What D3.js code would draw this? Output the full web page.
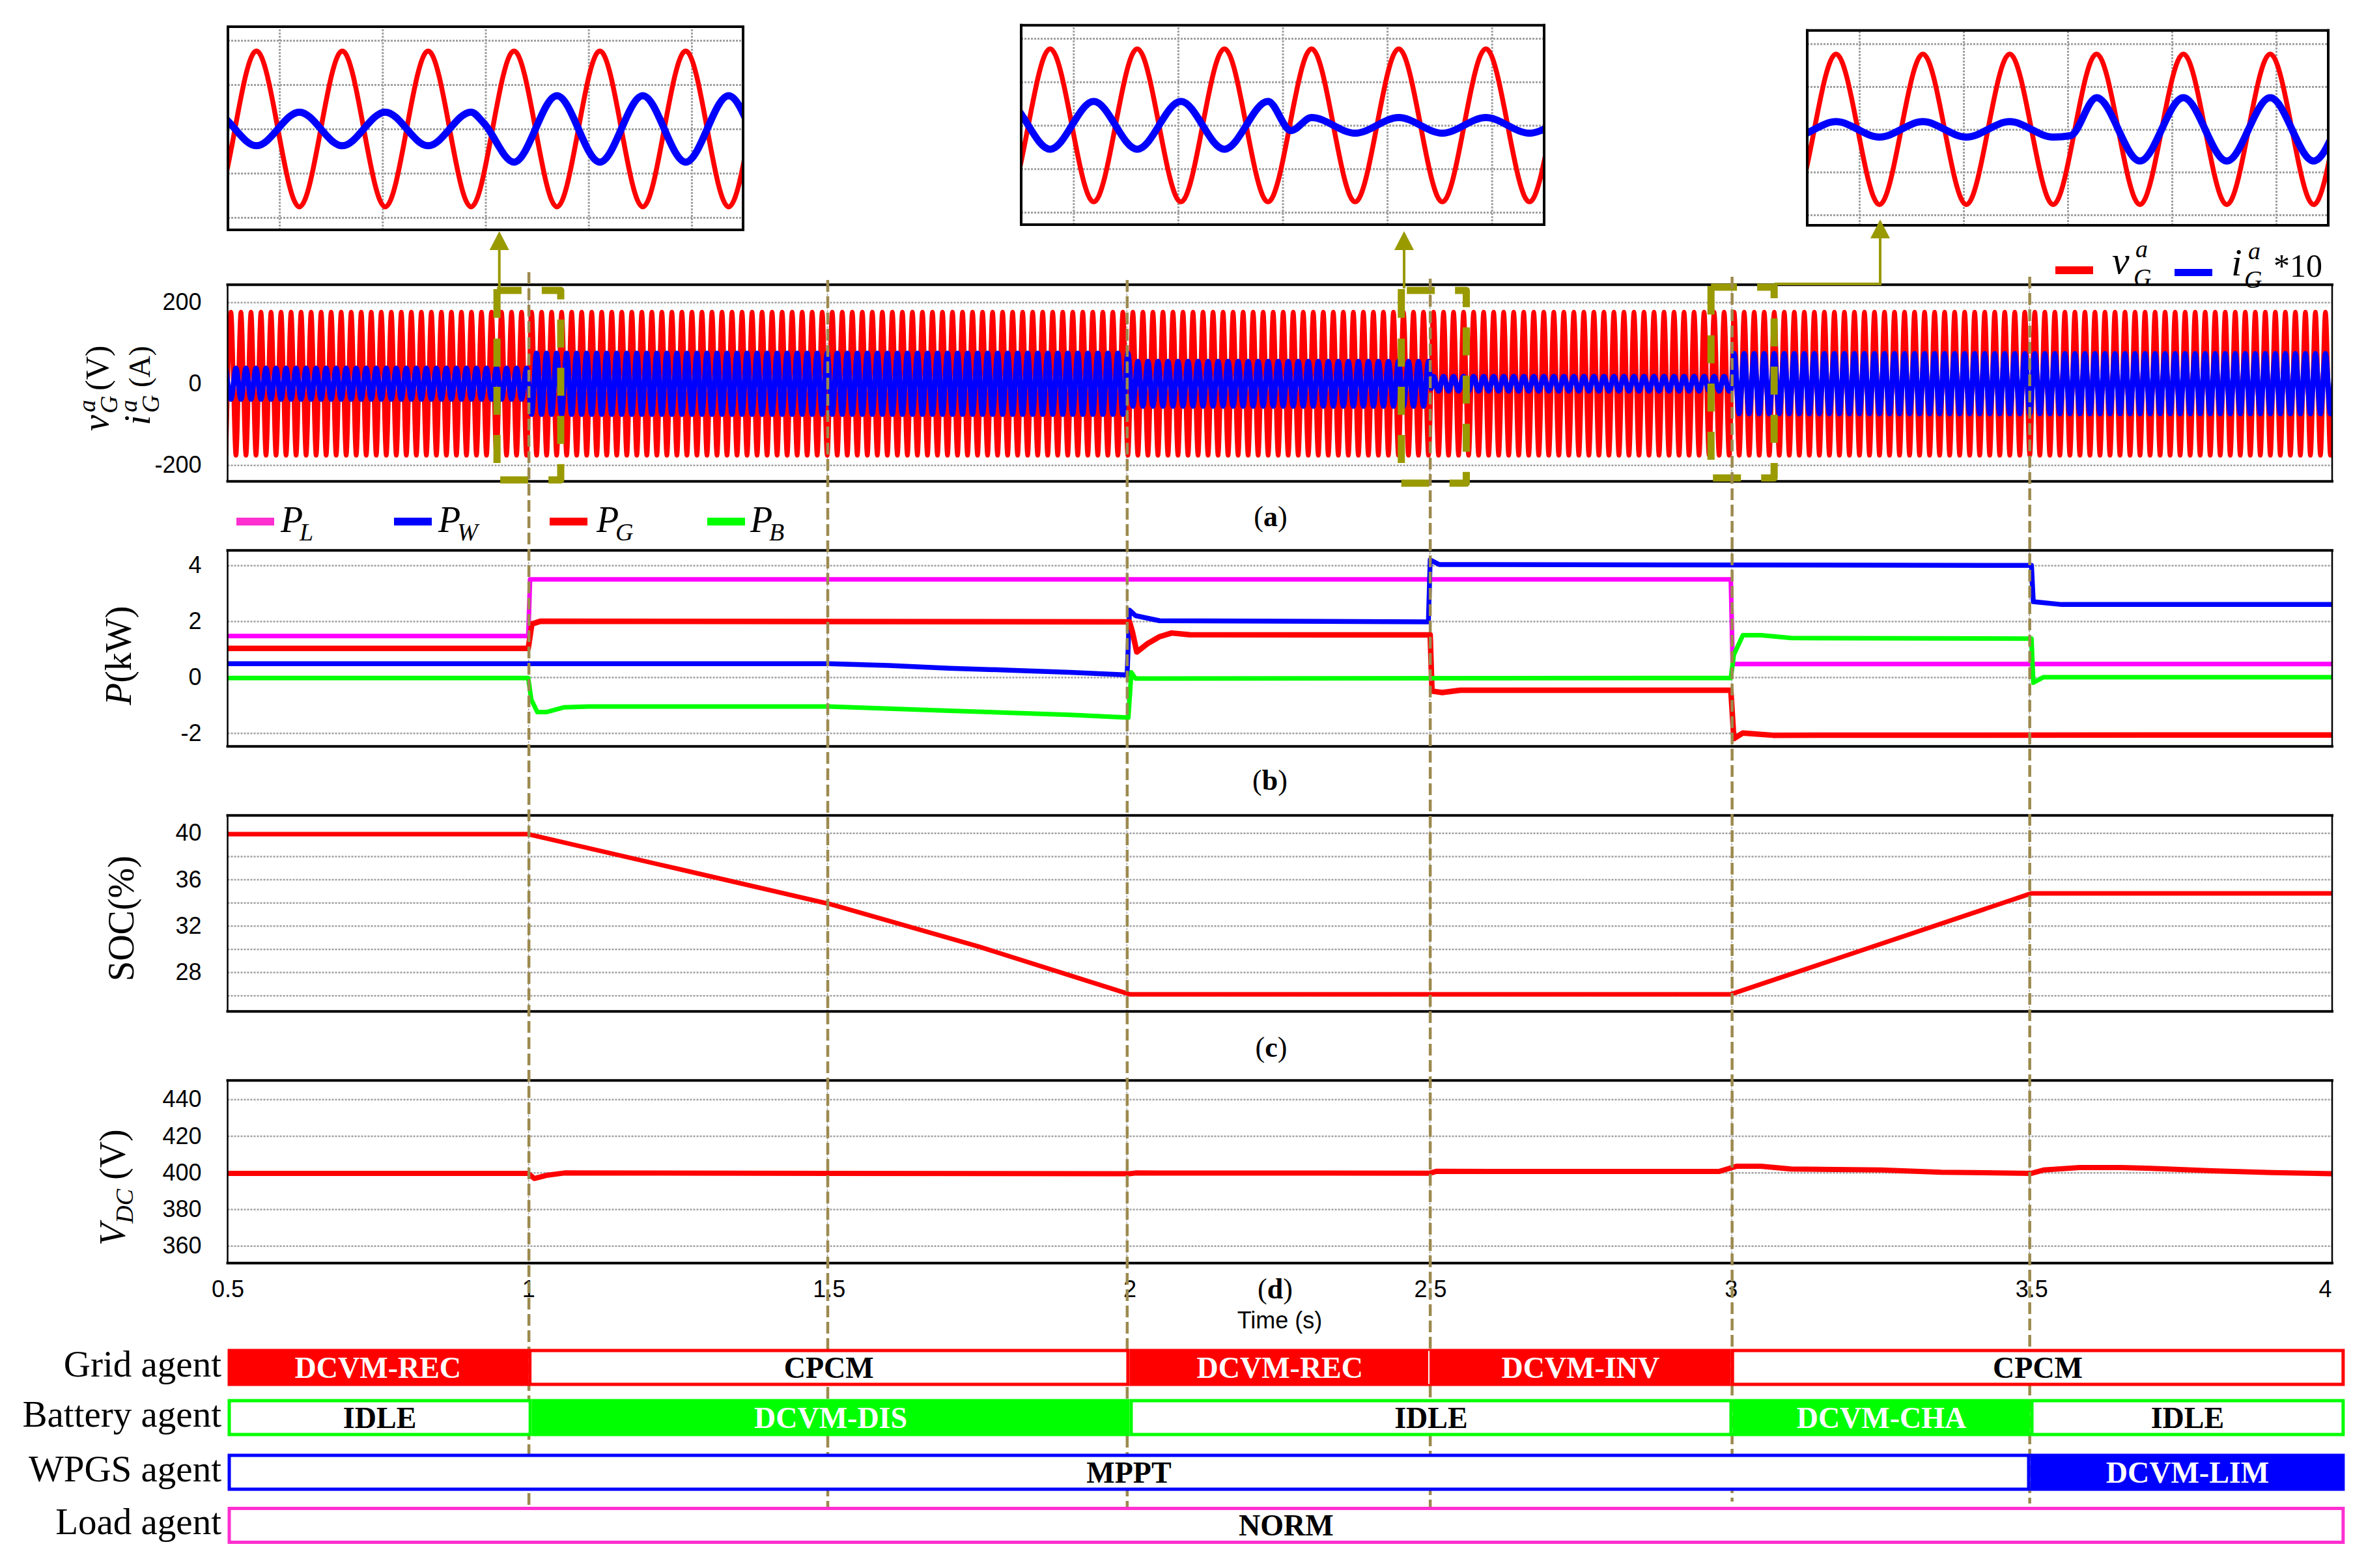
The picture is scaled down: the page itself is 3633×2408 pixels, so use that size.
<!DOCTYPE html>
<html>
<head>
<meta charset="utf-8">
<script src="https://cdn.jsdelivr.net/npm/d3@7"></script>
<style>
body { margin: 0; background: #fff; }
text { font-family: "Liberation Sans", Arial, sans-serif; fill: #000; }
.serif, .serif text { font-family: "Liberation Serif", serif; }
</style>
</head>
<body>
<div id="container"></div>
<script>
// crest values of the grid voltage and current, one every half cycle (1/120 s) from 0.4972 s
var crestStart = 0.4972;
var crestStep = 1 / 120;
var vgCrests = [
-176,176,-176,176,-176,176,-176,176,-176,176,-176,176,-176,176,-176,176,-176,176,-176,176,
-176,176,-176,176,-176,176,-176,176,-176,176,-176,176,-176,176,-176,176,-176,176,-176,176,
-176,176,-176,176,-176,176,-176,176,-176,176,-176,176,-176,176,-176,176,-176,176,-176,176,
-176,176,-176,176,-176,176,-176,176,-176,176,-176,176,-176,176,-176,176,-176,176,-176,176,
-176,176,-176,176,-176,176,-176,176,-176,176,-176,176,-176,176,-176,176,-176,176,-176,176,
-176,176,-176,176,-176,176,-176,176,-176,176,-176,176,-176,176,-176,176,-176,176,-176,176,
-176,176,-176,176,-176,176,-176,176,-176,176,-176,176,-176,176,-176,176,-176,176,-176,176,
-176,176,-176,176,-176,176,-176,176,-176,176,-176,176,-176,176,-176,176,-176,176,-176,176,
-176,176,-176,176,-176,176,-176,176,-176,176,-176,176,-176,176,-176,176,-176,176,-176,176,
-176,176,-176,176,-176,176,-176,176,-176,176,-176,176,-176,176,-176,176,-176,176,-176,176,
-176,176,-176,176,-176,176,-176,176,-176,176,-176,176,-176,176,-176,176,-176,176,-176,176,
-176,176,-176,176,-176,176,-176,176,-176,176,-176,176,-176,176,-176,176,-176,176,-176,176,
-176,176,-176,176,-176,176,-176,176,-176,176,-176,176,-176,176,-176,176,-176,176,-176,176,
-176,176,-176,176,-176,176,-176,176,-176,176,-176,176,-176,176,-176,176,-176,176,-176,176,
-176,176,-176,176,-176,176,-176,176,-176,176,-176,176,-176,176,-176,176,-176,176,-176,176,
-176,176,-176,176,-176,176,-176,176,-176,176,-176,176,-176,176,-176,176,-176,176,-176,176,
-176,176,-176,176,-176,176,-176,176,-176,176,-176,176,-176,176,-176,176,-176,176,-176,176,
-176,176,-176,176,-176,176,-176,176,-176,176,-176,176,-176,176,-176,176,-176,176,-176,176,
-176,176,-176,176,-176,176,-176,176,-176,176,-176,176,-176,176,-176,176,-176,176,-176,176,
-176,176,-176,176,-176,176,-176,176,-176,176,-176,176,-176,176,-176,176,-176,176,-176,176,
-176,176,-176,176,-176,176,-176,176,-176,176,-176,176,-176,176,-176,176,-176,176,-176,176,
-176,176];
var igCrests05to1 = [
38,-38,38,-38,38,-38,38,-38,38,-38,38,-38,38,-38,38,-38,38,-38,38,-38,
38,-38,38,-38,38,-38,38,-38,38,-38,38,-38,38,-38,38,-38,38,-38,38,-38,
38,-38,38,-38,38,-38,38,-38,38,-38,38,-38,38,-38,38,-38,38,-38,38,-38,
38];
var igCrests1to2 = [
-75,75,-75,75,-75,75,-75,75,-75,75,-75,75,-75,75,-75,75,-75,75,-75,75,
-75,75,-75,75,-75,75,-75,75,-75,75,-75,75,-75,75,-75,75,-75,75,-75,75,
-75,75,-75,75,-75,75,-75,75,-75,75,-75,75,-75,75,-75,75,-75,75,-75,75,
-75,75,-75,75,-75,75,-75,75,-75,75,-75,75,-75,75,-75,75,-75,75,-75,75,
-75,75,-75,75,-75,75,-75,75,-75,75,-75,75,-75,75,-75,75,-75,75,-75,75,
-75,75,-75,75,-75,75,-75,75,-75,75,-75,75,-75,75,-75,75,-75,75,-75,75];
var igCrests2to25 = [
-55,55,-55,55,-55,55,-55,55,-55,55,-55,55,-55,55,-55,55,-55,55,-55,55,
-55,55,-55,55,-55,55,-55,55,-55,55,-55,55,-55,55,-55,55,-55,55,-55,55,
-55,55,-55,55,-55,55,-55,55,-55,55,-55,55,-55,55,-55,55,-55,55,-55,55];
var igCrests25to3 = [
18,-18,18,-18,18,-18,18,-18,18,-18,18,-18,18,-18,18,-18,18,-18,18,-18,
18,-18,18,-18,18,-18,18,-18,18,-18,18,-18,18,-18,18,-18,18,-18,18,-18,
18,-18,18,-18,18,-18,18,-18,18,-18,18,-18,18,-18,18,-18,18,-18,18,-18];
var igCrests3to4 = [
74,-74,74,-74,74,-74,74,-74,74,-74,74,-74,74,-74,74,-74,74,-74,74,-74,
74,-74,74,-74,74,-74,74,-74,74,-74,74,-74,74,-74,74,-74,74,-74,74,-74,
74,-74,74,-74,74,-74,74,-74,74,-74,74,-74,74,-74,74,-74,74,-74,74,-74,
74,-74,74,-74,74,-74,74,-74,74,-74,74,-74,74,-74,74,-74,74,-74,74,-74,
74,-74,74,-74,74,-74,74,-74,74,-74,74,-74,74,-74,74,-74,74,-74,74,-74,
74,-74,74,-74,74,-74,74,-74,74,-74,74,-74,74,-74,74,-74,74,-74,74,-74,
74];
// kinks of the current at the three load steps
var igKinkTimes = [0.9996, 2.5016, 3.0005];
var igKinkValues = [14, -12, -15];

// power (kW)
var plTimes = [0.5, 1, 1.003, 3, 3.003, 4];
var plValues = [1.47, 1.47, 3.5, 3.5, 0.47, 0.47];
var pwTimes = [0.5, 1.5, 1.6, 1.7, 1.8, 1.9, 1.996, 2, 2.01, 2.05, 2.497, 2.5, 2.515, 3.5, 3.503, 3.55, 4];
var pwValues = [0.48, 0.48, 0.42, 0.32, 0.25, 0.17, 0.08, 2.4, 2.2, 2.02, 1.98, 4.2, 4.03, 4.0, 2.7, 2.6, 2.6];
var pgTimes = [0.5, 1, 1.006, 1.02, 2, 2.005, 2.012, 2.03, 2.05, 2.07, 2.1, 2.5, 2.503, 2.52, 2.55, 3, 3.005, 3.02, 3.07, 4];
var pgValues = [1.03, 1.03, 1.9, 2.0, 1.98, 1.6, 0.9, 1.2, 1.45, 1.58, 1.52, 1.51, -0.5, -0.55, -0.47, -0.47, -2.2, -2.0, -2.08, -2.07];
var pbTimes = [0.5, 1, 1.005, 1.015, 1.03, 1.06, 1.1, 1.5, 1.7, 1.9, 1.998, 2.003, 2.01, 3, 3.005, 3.02, 3.05, 3.1, 3.5, 3.503, 3.52, 4];
var pbValues = [-0.03, -0.03, -0.8, -1.25, -1.25, -1.08, -1.05, -1.05, -1.2, -1.35, -1.45, 0.17, -0.05, -0.03, 0.8, 1.5, 1.5, 1.4, 1.38, -0.2, 0, 0];

// battery state of charge (%)
var socTimes = [0.5, 1, 1.25, 1.5, 1.75, 2, 3, 3.5, 4];
var socValues = [39.9, 39.9, 36.9, 33.9, 30.2, 26.1, 26.1, 34.8, 34.8];

// DC link voltage (V)
var vdcTimes = [0.5, 1, 1.01, 1.03, 1.06, 2, 2.01, 2.5, 2.51, 2.98, 3.01, 3.05, 3.1, 3.25, 3.35, 3.5, 3.52, 3.58, 3.65, 3.72, 3.8, 3.9, 4];
var vdcValues = [399.6, 399.6, 396.8, 398.5, 399.8, 399.4, 399.8, 399.7, 400.7, 400.6, 403.5, 403.5, 402, 401.4, 400.2, 399.6, 401.4, 402.8, 402.8, 402.1, 401, 400, 399.4];

// agent operating modes
var gridModes = ['DCVM-REC', 'CPCM', 'DCVM-REC', 'DCVM-INV', 'CPCM'];
var gridModeStarts = [0.5, 1, 2, 2.5, 3];
var gridModeEnds = [1, 2, 2.5, 3, 4.021];
var batteryModes = ['IDLE', 'DCVM-DIS', 'IDLE', 'DCVM-CHA', 'IDLE'];
var batteryModeStarts = [0.5, 1.006, 2, 3.003, 3.498];
var batteryModeEnds = [1.006, 2, 3.003, 3.498, 4.021];
var wpgsModes = ['MPPT', 'DCVM-LIM'];
var wpgsModeStarts = [0.5, 3.498];
var wpgsModeEnds = [3.498, 4.021];
var loadModes = ['NORM'];
var loadModeStarts = [0.5];
var loadModeEnds = [4.021];
var filledModes = ['DCVM-REC', 'DCVM-INV', 'DCVM-DIS', 'DCVM-CHA', 'DCVM-LIM'];

var voltageTicks = [-200, 0, 200];
var powerTicks = [-2, 0, 2, 4];
var socTicks = [28, 32, 36, 40];
var socGrid = [26, 28, 30, 32, 34, 36, 38, 40];
var vdcTicks = [360, 380, 400, 420, 440];
var timeTicks = [0.5, 1, 1.5, 2, 2.5, 3, 3.5, 4];
var eventTimes = [1, 1.497, 1.995, 2.499, 3.001, 3.496];
var insetStarts = [0.95, 2.45, 2.95];
var insetGridTimes = [0.01, 0.03, 0.05, 0.07, 0.09];
var insetGridVolts = [-200, -100, 0, 100, 200];
var boxStarts = [0.948, 2.452, 2.967];
var boxEnds = [1.054, 2.56, 3.072];

var red = '#ff0000', blue = '#0000ff', green = '#00ff00', magenta = '#ff00ff', pink = '#ff2fd0';
var olive = '#999900', dashColor = '#9c8a4e', gridColor = '#a0a0a0';
var width = 3633, height = 2408;
var left = 349.5, right = 3581;

var svg = d3.select('#container').append('svg')
    .attr('width', width).attr('height', height)
    .style('display', 'block');
svg.append('rect').attr('width', width).attr('height', height).attr('fill', '#fff');

var x = d3.scaleLinear().domain([0.5, 4]).range([left, right]);
var igCrests = igCrests05to1.concat(igCrests1to2, igCrests2to25, igCrests25to3, igCrests3to4);
var crestTimes = vgCrests.map(function(d, i) { return crestStart + i * crestStep; });

function zipSeries(times, values) {
    return times.map(function(t, i) { return [t, values[i]]; });
}

var vgSeries = zipSeries(crestTimes, vgCrests);
var igSeries = zipSeries(crestTimes, igCrests)
    .concat(zipSeries(igKinkTimes, igKinkValues))
    .sort(function(a, b) { return a[0] - b[0]; });

function styleGrid(g, strokeWidth) {
    g.select('.domain').remove();
    g.selectAll('line')
        .attr('stroke', gridColor)
        .attr('stroke-width', strokeWidth)
        .attr('stroke-dasharray', '3 2');
}

function addFrame(g, x0, x1, y0, y1, sideWidth, capWidth) {
    [[x0, y0, x1, y0, capWidth], [x0, y1, x1, y1, capWidth], [x0, y0, x0, y1, sideWidth], [x1, y0, x1, y1, sideWidth]].forEach(function(s) {
        g.append('line').attr('x1', s[0]).attr('y1', s[1]).attr('x2', s[2]).attr('y2', s[3])
            .attr('stroke', '#000').attr('stroke-width', s[4]).attr('stroke-linecap', 'square');
    });
}

// one stacked time panel: grid, labels, frame
function makePanel(top, bottom, y, ticks, gridVals) {
    var g = svg.append('g');
    g.append('g').attr('transform', 'translate(' + left + ',0)')
        .call(d3.axisLeft(y).tickValues(gridVals).tickSize(-(right - left)).tickFormat(''))
        .call(styleGrid, 2.5);
    g.append('g').attr('transform', 'translate(0,' + bottom + ')')
        .call(d3.axisBottom(x).tickValues(eventTimes).tickFormat(''))
        .call(function(a) { a.selectAll('line').attr('y2', top - bottom); })
        .call(styleGrid, 1.5);
    var labels = g.append('g').attr('transform', 'translate(' + left + ',0)')
        .call(d3.axisLeft(y).tickValues(ticks).tickSize(0).tickPadding(40).tickFormat(String));
    labels.select('.domain').remove();
    labels.selectAll('text').attr('font-size', 36)
        .style('font-family', '"Liberation Sans", Arial, sans-serif');
    return g;
}

function addTrace(g, y, series, color, strokeWidth) {
    var line = d3.line().x(function(d) { return x(d[0]); }).y(function(d) { return y(d[1]); });
    g.append('path').attr('d', line(series))
        .attr('fill', 'none').attr('stroke', color).attr('stroke-width', strokeWidth)
        .attr('stroke-linejoin', 'round');
}

// crest lists draw as a smooth wave through the crests
function addWave(g, xs, ys, series, color, strokeWidth, clipId) {
    var line = d3.line().curve(d3.curveMonotoneX)
        .x(function(d) { return xs(d[0]); })
        .y(function(d) { return ys(d[1]); });
    g.append('path').attr('d', line(series))
        .attr('clip-path', 'url(#' + clipId + ')')
        .attr('fill', 'none').attr('stroke', color).attr('stroke-width', strokeWidth);
}

function addClip(id, x0, y0, w, h) {
    svg.append('clipPath').attr('id', id).append('rect')
        .attr('x', x0).attr('y', y0).attr('width', w).attr('height', h);
}

// italic symbol with stacked superscript and subscript
function mathSymbol(g, px, py, base, size, sup, sub, subSize, supDx, subDx, supDy, subDy) {
    var t = g.append('g').attr('class', 'serif');
    t.append('text').attr('x', px).attr('y', py).attr('font-size', size).attr('font-style', 'italic').text(base);
    if (sup) t.append('text').attr('x', px + supDx).attr('y', py + supDy).attr('font-size', subSize).attr('font-style', 'italic').text(sup);
    if (sub) t.append('text').attr('x', px + subDx).attr('y', py + subDy).attr('font-size', subSize).attr('font-style', 'italic').text(sub);
}

function captionLabel(cx, cy, letter) {
    var t = svg.append('text').attr('class', 'serif').attr('x', cx).attr('y', cy)
        .attr('text-anchor', 'middle').attr('font-size', 44);
    t.append('tspan').text('(');
    t.append('tspan').attr('font-weight', 'bold').text(letter);
    t.append('tspan').text(')');
}

// panel (a)
var yA = d3.scaleLinear().domain([-200, 200]).range([714.3, 464.3]);
var panelA = makePanel(437.3, 739.3, yA, voltageTicks, voltageTicks);
addClip('clipA', left, 437, right - left, 302);
addWave(panelA, x, yA, vgSeries, red, 7, 'clipA');
addWave(panelA, x, yA, igSeries, blue, 8, 'clipA');
addFrame(panelA, left, right, 437.3, 739.3, 2.5, 4);

// panel (b)
var yB = d3.scaleLinear().domain([-2, 4]).range([1125.7, 868.3]);
var panelB = makePanel(845.3, 1146.3, yB, powerTicks, powerTicks);
addTrace(panelB, yB, zipSeries(plTimes, plValues), magenta, 7);
addTrace(panelB, yB, zipSeries(pwTimes, pwValues), blue, 7.5);
addTrace(panelB, yB, zipSeries(pgTimes, pgValues), red, 8.5);
addTrace(panelB, yB, zipSeries(pbTimes, pbValues), green, 7);
addFrame(panelB, left, right, 845.3, 1146.3, 2.5, 4);

// panel (c)
var yC = d3.scaleLinear().domain([26, 40]).range([1528.7, 1279.3]);
var panelC = makePanel(1252.3, 1553.3, yC, socTicks, socGrid);
addTrace(panelC, yC, zipSeries(socTimes, socValues), red, 7);
addFrame(panelC, left, right, 1252.3, 1553.3, 2.5, 4);

// panel (d)
var yD = d3.scaleLinear().domain([360, 440]).range([1913.3, 1688.3]);
var panelD = makePanel(1659.3, 1939.7, yD, vdcTicks, vdcTicks);
addTrace(panelD, yD, zipSeries(vdcTimes, vdcValues), red, 8);
addFrame(panelD, left, right, 1659.3, 1939.7, 2.5, 4);
var timeAxis = panelD.append('g').attr('transform', 'translate(0,1939.7)')
    .call(d3.axisBottom(x).tickValues(timeTicks).tickSize(0).tickPadding(27).tickFormat(String));
timeAxis.select('.domain').remove();
timeAxis.selectAll('text').attr('font-size', 36)
    .style('font-family', '"Liberation Sans", Arial, sans-serif')
    .attr('dx', function(d) { return d === 4 ? -11 : 0; });
svg.append('text').attr('x', 1965).attr('y', 2040).attr('text-anchor', 'middle')
    .attr('font-size', 36).text('Time (s)');

// zoomed insets share the crest lists of panel (a)
var insetLefts = [350, 1568, 2775];
var insetRights = [1141, 2371, 3575];
var insetTops = [41, 38.7, 46.7];
var insetBottoms = [353, 345, 346];
var insetY200 = [62, 59, 67.3];
var insetYm200 = [334, 326, 330];
insetStarts.forEach(function(start, k) {
    var g = svg.append('g');
    var xi = d3.scaleLinear().domain([start, start + 0.1]).range([insetLefts[k], insetRights[k]]);
    var yi = d3.scaleLinear().domain([-200, 200]).range([insetYm200[k], insetY200[k]]);
    var times = insetGridTimes.map(function(d) { return start + d; });
    g.append('g').attr('transform', 'translate(' + insetLefts[k] + ',0)')
        .call(d3.axisLeft(yi).tickValues(insetGridVolts).tickSize(-(insetRights[k] - insetLefts[k])).tickFormat(''))
        .call(styleGrid, 3);
    g.append('g').attr('transform', 'translate(0,' + insetBottoms[k] + ')')
        .call(d3.axisBottom(xi).tickValues(times).tickFormat(''))
        .call(function(a) { a.selectAll('line').attr('y2', insetTops[k] - insetBottoms[k]); })
        .call(styleGrid, 3);
    var clipId = 'clipInset' + k;
    addClip(clipId, insetLefts[k], insetTops[k], insetRights[k] - insetLefts[k], insetBottoms[k] - insetTops[k]);
    addWave(g, xi, yi, vgSeries, red, 7.5, clipId);
    addWave(g, xi, yi, igSeries, blue, 11, clipId);
    addFrame(g, insetLefts[k], insetRights[k], insetTops[k], insetBottoms[k], 4, 4);
});

// olive dashed boxes and arrows
var boxTops = [446, 446, 441];
var boxBottoms = [737, 742, 734];
boxStarts.forEach(function(start, k) {
    var x0 = x(start), x1 = x(boxEnds[k]), y0 = boxTops[k], y1 = boxBottoms[k];
    svg.append('path')
        .attr('d', 'M' + x0 + ',' + (y0 + 74) + 'V' + y1 + 'H' + x1 + 'V' + y0 + 'H' + x0)
        .attr('fill', 'none').attr('stroke', olive).attr('stroke-width', 11)
        .attr('stroke-dasharray', '43 31').attr('stroke-linejoin', 'round');
    svg.append('line').attr('x1', x0).attr('x2', x0).attr('y1', y0 - 2).attr('y2', y0 + 42)
        .attr('stroke', olive).attr('stroke-width', 11);
});
var arrowTips = [[766.7, 355], [2156, 355], [2887, 337]];
var arrowTails = ['M766.7,443V380', 'M2156,443V380', 'M2725,436H2887V362'];
arrowTips.forEach(function(tip, k) {
    svg.append('path').attr('d', arrowTails[k]).attr('fill', 'none').attr('stroke', olive).attr('stroke-width', 4);
    svg.append('path').attr('d', 'M' + tip[0] + ',' + tip[1] + 'l-15,29h30z').attr('fill', olive);
});

// vertical event markers, the agent bars below cover them
var eventTops = [418, 430, 430, 428, 425, 425];
var eventBottoms = [2313, 2322, 2322, 2314, 2306, 2309];
svg.append('g').selectAll('line').data(eventTimes).join('line')
    .attr('x1', function(d) { return x(d) + 1; }).attr('x2', function(d) { return x(d) + 1; })
    .attr('y1', function(d, i) { return eventTops[i]; })
    .attr('y2', function(d, i) { return eventBottoms[i]; })
    .attr('stroke', dashColor).attr('stroke-width', 4.5).attr('stroke-dasharray', '18 7');

// agent rows
var rowTops = [2071.5, 2148.5, 2232.5, 2314];
var rowColors = [red, green, blue, pink];
var rowNames = ['Grid agent', 'Battery agent', 'WPGS agent', 'Load agent'];
var rowModes = [gridModes, batteryModes, wpgsModes, loadModes];
var rowStarts = [gridModeStarts, batteryModeStarts, wpgsModeStarts, loadModeStarts];
var rowEnds = [gridModeEnds, batteryModeEnds, wpgsModeEnds, loadModeEnds];
var rowHeight = 57;
rowTops.forEach(function(top, r) {
    var g = svg.append('g').attr('class', 'serif');
    g.append('text').attr('x', 340).attr('y', top + 42).attr('text-anchor', 'end')
        .attr('font-size', 57).text(rowNames[r]);
    var cells = g.selectAll('g.cell')
        .data(rowModes[r].map(function(m, i) { return { mode: m, start: rowStarts[r][i], end: rowEnds[r][i] }; }))
        .join('g').attr('class', 'cell');
    cells.append('rect')
        .attr('x', function(d) { return x(d.start) + 2.5; })
        .attr('y', top + 2.5)
        .attr('width', function(d) { return x(d.end) - x(d.start) - 5; })
        .attr('height', rowHeight - 5)
        .attr('fill', function(d) { return filledModes.indexOf(d.mode) >= 0 ? rowColors[r] : '#fff'; })
        .attr('stroke', rowColors[r]).attr('stroke-width', 5);
    cells.append('text')
        .attr('x', function(d) { return (x(d.start) + x(d.end)) / 2; })
        .attr('y', top + 44)
        .attr('text-anchor', 'middle').attr('font-size', 46).attr('font-weight', 'bold')
        .style('fill', function(d) { return filledModes.indexOf(d.mode) >= 0 ? '#fff' : '#000'; })
        .text(function(d) { return d.mode; });
});
// thin white seam between the two filled grid modes
svg.append('line').attr('x1', x(2.5) - 2).attr('x2', x(2.5) - 2)
    .attr('y1', rowTops[0] + 3).attr('y2', rowTops[0] + rowHeight - 3)
    .attr('stroke', '#fff').attr('stroke-width', 2);

// legends
function addSwatch(x0, x1, y0, y1, color) {
    svg.append('rect').attr('x', x0).attr('y', y0).attr('width', x1 - x0).attr('height', y1 - y0).attr('fill', color);
}
addSwatch(3156, 3214, 409, 421, red);
addSwatch(3339, 3397, 413, 424, blue);
mathSymbol(svg, 3243, 420, 'v', 60, 'a', 'G', 38, 36, 33, -25, 19);
mathSymbol(svg, 3426, 423, 'i', 60, 'a', 'G', 38, 26, 20, -25, 19);
svg.append('text').attr('class', 'serif').attr('x', 3491).attr('y', 425).attr('font-size', 50).text('*10');

var powerSwatches = [[363, 421, pink], [605, 663, blue], [844, 902, red], [1086, 1144, green]];
var powerSubs = ['L', 'W', 'G', 'B'];
var powerNameX = [431, 673, 916, 1152];
powerSwatches.forEach(function(s, i) {
    addSwatch(s[0], s[1], 795, 807, s[2]);
    mathSymbol(svg, powerNameX[i], 817, 'P', 56, null, powerSubs[i], 38, 0, 29, 0, 13);
});

// rotated axis titles
function rotated(px, py) {
    return svg.append('g').attr('class', 'serif').attr('transform', 'translate(' + px + ',' + py + ') rotate(-90)');
}
var titleV = rotated(166, 662);
mathSymbol(titleV, 0, 0, 'v', 56, 'a', 'G', 38, 29, 27, -20, 14);
titleV.append('text').attr('x', 62).attr('y', 0).attr('font-size', 50).text('(V)');
var titleI = rotated(230, 653);
mathSymbol(titleI, 0, 0, 'i', 56, 'a', 'G', 38, 20, 19, -20, 14);
titleI.append('text').attr('x', 58).attr('y', 0).attr('font-size', 46).text('(A)');

var titleP = rotated(201, 1083).append('text').attr('font-size', 56);
titleP.append('tspan').attr('font-style', 'italic').text('P');
titleP.append('tspan').text('(kW)');
rotated(205, 1507).append('text').attr('font-size', 56).text('SOC(%)');
var titleD = rotated(192, 1913).append('text').attr('font-size', 56);
titleD.append('tspan').attr('font-style', 'italic').text('V');
titleD.append('tspan').attr('font-style', 'italic').attr('font-size', 38).attr('dy', 12).text('DC');
titleD.append('tspan').attr('dy', -12).text(' (V)');

captionLabel(1951, 808, 'a');
captionLabel(1950, 1213, 'b');
captionLabel(1952, 1623, 'c');
captionLabel(1958, 1994, 'd');
</script>
</body>
</html>
